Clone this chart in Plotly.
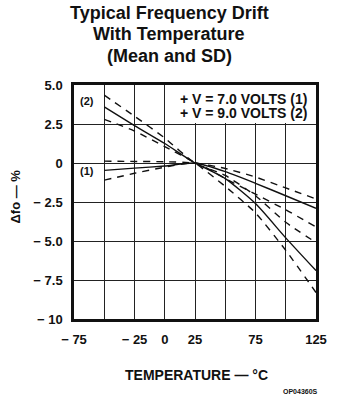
import plotly.graph_objects as go

# ---- data ----
temp = [-50, -25, 0, 25, 50, 75, 100, 125]
v7_mean = [-0.47, -0.33, -0.19, 0.0, -0.55, -1.3, -2.1, -2.9]
v7_upper = [0.12, 0.10, 0.08, 0.0, -0.35, -0.9, -1.6, -2.3]
v7_lower = [-1.1, -0.66, -0.27, 0.0, -1.0, -2.0, -3.0, -4.1]
v9_mean = [3.6, 2.4, 1.25, 0.0, -1.0, -2.6, -4.8, -6.9]
v9_upper = [4.35, 3.0, 1.6, 0.0, -0.8, -2.1, -3.8, -5.1]
v9_lower = [2.8, 2.05, 1.05, 0.0, -1.5, -3.2, -5.6, -8.3]

x_tickvals = [-75, -25, 0, 25, 75, 125]
x_ticktext = ["\u2212 75", "\u2212 25", "0", "25", "75", "125"]
y_tickvals = [5.0, 2.5, 0, -2.5, -5.0, -7.5, -10]
y_ticktext = ["5.0", "2.5", "0", "\u2212 2.5", "\u2212 5.0", "\u2212 7.5", "\u2212 10"]

INK = "#111111"
FONT = "Liberation Sans"

W, H = 339, 396
L, R, T, B = 74, 21, 85, 77

fig = go.Figure()

series = [
    (v7_mean, "solid"), (v7_upper, "7px,6px"), (v7_lower, "7px,6px"),
    (v9_mean, "solid"), (v9_upper, "7px,6px"), (v9_lower, "7px,6px"),
]
for vals, dash in series:
    fig.add_trace(go.Scatter(
        x=temp, y=vals, mode="lines",
        line=dict(color=INK, width=1.4, dash=dash, shape="spline", smoothing=0.6),
        showlegend=False, hoverinfo="skip",
    ))

# white box behind legend text (hides grid there)
fig.add_shape(type="rect", x0=1, x1=125, y0=2.56, y1=5.0,
              fillcolor="white", line=dict(width=0), layer="between")

axis_common = dict(
    showline=True, linecolor=INK, linewidth=2.5, mirror=True,
    showgrid=True, gridcolor="#222222", gridwidth=1,
    zeroline=False, ticks="",
    tickfont=dict(family=FONT, size=13, color=INK, weight="bold"),
)

fig.update_xaxes(
    range=[-75, 125], tickvals=x_tickvals, ticktext=x_ticktext,
    minor=dict(dtick=25, tick0=-75, showgrid=True, gridcolor="#222222", gridwidth=1),
    ticklabelstandoff=7, **axis_common,
)
fig.update_yaxes(
    range=[-10, 5], tickvals=y_tickvals, ticktext=y_ticktext,
    ticklabelstandoff=6, **axis_common,
)

def bold(s):
    return dict(family=FONT, size=s, color=INK, weight="bold")

def page_annot(text, px, py, size, anchor="center", angle=0):
    w = W - L - R
    h = H - T - B
    fig.add_annotation(text=text, xref="paper", yref="paper",
                       x=(px - L) / w, y=(H - B - py) / h,
                       xanchor=anchor, yanchor="middle", showarrow=False,
                       font=bold(size), textangle=angle)

page_annot("Typical Frequency Drift", 170, 13, 18)
page_annot("With Temperature", 170, 34, 18)
page_annot("(Mean and SD)", 170, 56, 18)
page_annot("TEMPERATURE \u2014 \u00b0C", 198, 375, 14)
page_annot("OP04360S", 302, 391, 7)
page_annot("\u0394fo \u2014 %", 15, 196, 13, angle=-90)
page_annot("+ V = 7.0 VOLTS (1)", 311, 99, 14, anchor="right")
page_annot("+ V = 9.0 VOLTS (2)", 311, 113, 14, anchor="right")

# curve labels
fig.add_annotation(text="(2)", x=-64, y=3.95, showarrow=False, font=bold(11))
fig.add_annotation(text="(1)", x=-64, y=-0.5, showarrow=False, font=bold(11))

fig.update_layout(
    width=W, height=H,
    margin=dict(l=L, r=R, t=T, b=B),
    paper_bgcolor="white", plot_bgcolor="white",
)

fig.write_html("out.html", config={"displayModeBar": False},
               post_script="document.body.style.margin='0px';")
